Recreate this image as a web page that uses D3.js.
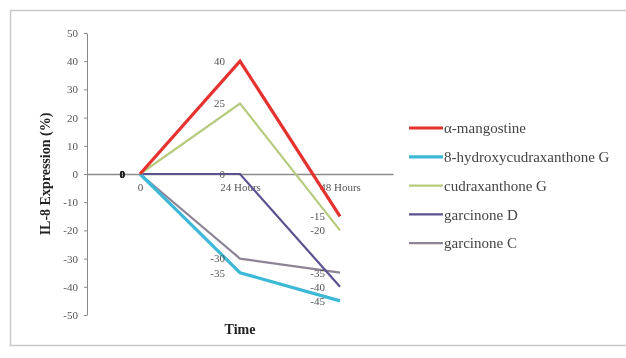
<!DOCTYPE html>
<html>
<head>
<meta charset="utf-8">
<script src="https://cdn.jsdelivr.net/npm/d3@7"></script>
<style>
  html, body { margin: 0; padding: 0; background: #fff; }
  svg { display: block; }
  svg text { font-family: "Liberation Serif", "DejaVu Serif", serif; }
</style>
</head>
<body>
<svg id="chart" width="626" height="358"></svg>
<script>
// Time points on the category axis
const timePoints = ["0", "24 Hours", "48 Hours"];

// Change in IL-8 expression (%) at each time point
const seriesNames = [
  "α-mangostine",
  "8-hydroxycudraxanthone G",
  "cudraxanthone G",
  "garcinone D",
  "garcinone C"
];
const alphaMangostine = [0, 40, -15];
const hydroxyCudraxanthoneG = [0, -35, -45];
const cudraxanthoneG = [0, 25, -20];
const garcinoneD = [0, 0, -40];
const garcinoneC = [0, -30, -35];

const yTicks = [50, 40, 30, 20, 10, 0, -10, -20, -30, -40, -50];

const seriesValues = [alphaMangostine, hydroxyCudraxanthoneG, cudraxanthoneG, garcinoneD, garcinoneC];
const seriesColors = ["#e5302e", "#3db8d6", "#b7cb7e", "#5a5290", "#8c8494"];
const seriesWidths = [3.2, 3.2, 2.2, 2.2, 2.2];

const svg = d3.select("#chart");

// soft rendering of the whole chart
svg.append("defs").append("filter")
  .attr("id", "soft")
  .append("feGaussianBlur").attr("stdDeviation", 0.45);

const root = svg.append("g").attr("filter", "url(#soft)");

// chart frame
root.append("rect")
  .attr("x", 10.5).attr("y", 10.5)
  .attr("width", 630).attr("height", 335)
  .attr("fill", "#fff")
  .attr("stroke", "#c9c9c9")
  .attr("stroke-width", 1.5);

const x = d3.scalePoint().domain(timePoints).range([87, 393]).padding(0.53);
const y = d3.scaleLinear().domain([-50, 50]).range([315, 33]);

// y axis
const yAxis = root.append("g")
  .attr("transform", "translate(87,0)")
  .call(d3.axisLeft(y).tickValues(yTicks).tickFormat(d => String(d))
    .tickSize(3).tickSizeOuter(0).tickPadding(6));
yAxis.attr("font-family", null);
yAxis.select(".domain").attr("stroke", "#8a8a8a");
yAxis.selectAll(".tick line").attr("stroke", "#8a8a8a");
yAxis.selectAll(".tick text")
  .attr("fill", "#555")
  .style("font-size", "11px");

// x axis drawn along the zero line
const xAxis = root.append("g")
  .attr("transform", `translate(0,${y(0)})`)
  .call(d3.axisBottom(x).tickSize(0).tickPadding(9));
xAxis.attr("font-family", null);
xAxis.select(".domain").attr("stroke", "#8a8a8a").attr("stroke-width", 1.3);
xAxis.selectAll(".tick text")
  .attr("fill", "#555")
  .style("font-size", "11px");

// axis titles
root.append("text")
  .attr("transform", `translate(50,${y(0)}) rotate(-90)`)
  .attr("text-anchor", "middle")
  .attr("font-weight", "bold")
  .attr("font-size", 14)
  .attr("fill", "#222")
  .text("IL-8 Expression (%)");

root.append("text")
  .attr("x", x("24 Hours")).attr("y", 334)
  .attr("text-anchor", "middle")
  .attr("font-weight", "bold")
  .attr("font-size", 14)
  .attr("fill", "#222")
  .text("Time");

// series lines
const line = d3.line()
  .x((d, i) => x(timePoints[i]))
  .y(d => y(d));

const drawOrder = [4, 3, 2, 1, 0];
drawOrder.forEach(s => {
  root.append("path")
    .datum(seriesValues[s])
    .attr("fill", "none")
    .attr("stroke", seriesColors[s])
    .attr("stroke-width", seriesWidths[s])
    .attr("stroke-linejoin", "miter")
    .attr("d", line);
});

// data labels to the left of each point
seriesValues.forEach((vals, s) => {
  root.append("g").selectAll("text")
    .data(vals)
    .join("text")
    .attr("x", (d, i) => x(timePoints[i]) - 15)
    .attr("y", d => y(d))
    .attr("dy", "0.35em")
    .attr("text-anchor", "end")
    .attr("font-size", 11)
    .attr("font-weight", (d, i) => i === 0 ? "bold" : "normal")
    .attr("fill", (d, i) => i === 0 ? "#222" : "#555")
    .text(d => String(d));
});

// legend
const legend = root.append("g").attr("transform", "translate(409,128)");
seriesNames.forEach((name, i) => {
  const row = legend.append("g").attr("transform", `translate(0,${i * 28.8})`);
  row.append("line")
    .attr("x1", 0).attr("x2", 34)
    .attr("stroke", seriesColors[i])
    .attr("stroke-width", seriesWidths[i]);
  row.append("text")
    .attr("x", 35).attr("dy", "0.35em")
    .attr("font-size", 15)
    .attr("fill", "#444")
    .text(name);
});
</script>
</body>
</html>
